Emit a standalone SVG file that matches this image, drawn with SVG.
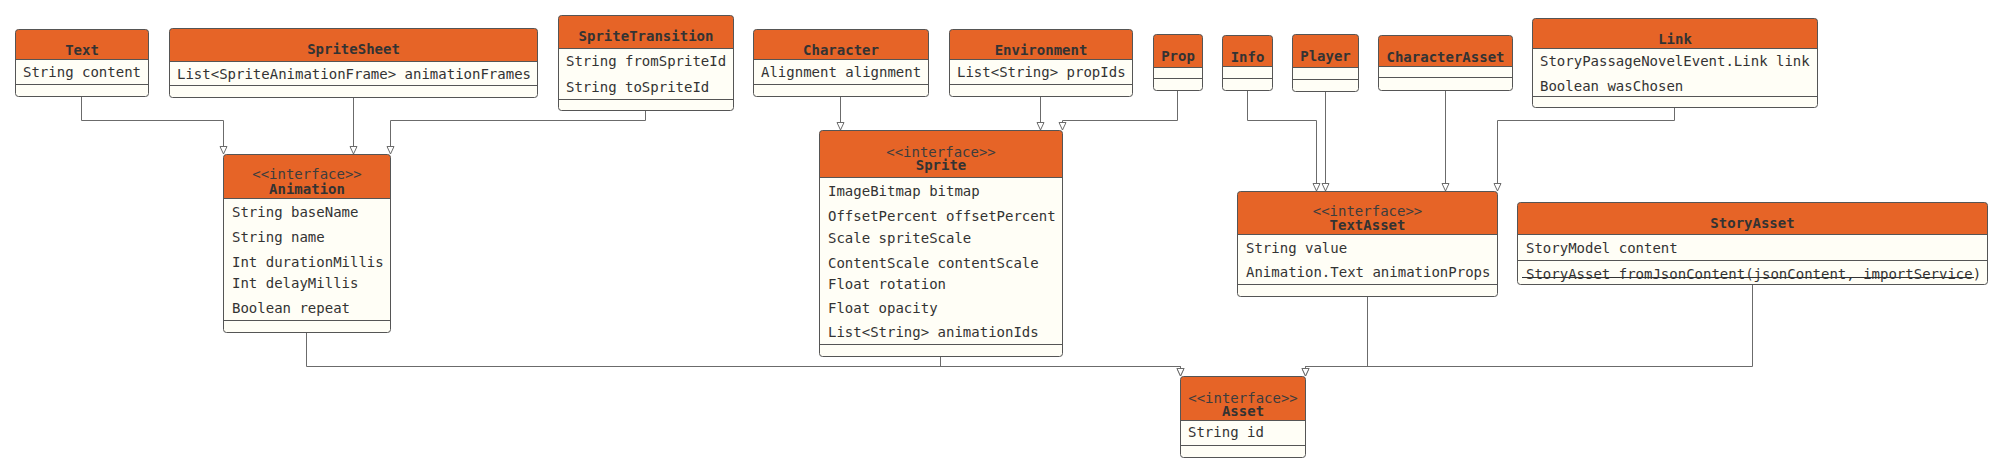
<svg xmlns="http://www.w3.org/2000/svg" width="2001" height="471" viewBox="0 0 2001 471">
<style>
.body{fill:#fffef6;stroke:none}
.head{fill:#e66427;stroke:none}
.frame{fill:none;stroke:#555;stroke-width:1}
.div{stroke:#555;stroke-width:1}
.t{font-family:"DejaVu Sans Mono","Liberation Mono",monospace;font-size:14px;fill:#333}
.ttl{font-weight:bold;text-anchor:middle;fill:#333}
.st{text-anchor:middle;fill:#3d3d3d}
.conn path{fill:none;stroke:#6b6b6b;stroke-width:1}
</style>
<defs>
<marker id="gen" markerUnits="userSpaceOnUse" markerWidth="10" markerHeight="10" refX="8" refY="4" orient="auto">
<path d="M0.5,0.5 L8,4 L0.5,7.5 Z" fill="#fff" stroke="#6b6b6b" stroke-width="1"/>
</marker>
</defs>
<rect width="2001" height="471" fill="#fff"/>

<g class="conn" id="connectors">
<path d="M81.5,96 V120.5 H223.5 V154" marker-end="url(#gen)"/>
<path d="M353.5,97 V154" marker-end="url(#gen)"/>
<path d="M645.5,110 V120.5 H390.5 V154" marker-end="url(#gen)"/>
<path d="M840.5,96 V130" marker-end="url(#gen)"/>
<path d="M1040.5,96 V130" marker-end="url(#gen)"/>
<path d="M1177.5,90 V120.5 H1062.5 V130" marker-end="url(#gen)"/>
<path d="M1247.5,90 V120.5 H1316.5 V191" marker-end="url(#gen)"/>
<path d="M1325.5,91 V191" marker-end="url(#gen)"/>
<path d="M1445.5,90 V191" marker-end="url(#gen)"/>
<path d="M1674.5,107 V120.5 H1497.5 V191" marker-end="url(#gen)"/>
<path d="M306.5,332 V366.5 H1180.5 V376" marker-end="url(#gen)"/>
<path d="M940.5,356 V366.5 H1180.5 V376" marker-end="url(#gen)"/>
<path d="M1367.5,296 V366.5 H1305.5 V376" marker-end="url(#gen)"/>
<path d="M1752.5,284 V366.5 H1305.5 V376" marker-end="url(#gen)"/>
</g>

<g id="Text">
<rect class="body" x="15.5" y="29.5" width="133" height="67" rx="3"/>
<path class="head" d="M15.5,59.5 V32.5 Q15.5,29.5 18.5,29.5 H145.5 Q148.5,29.5 148.5,32.5 V59.5 Z"/>
<line class="div" x1="15.5" y1="59.5" x2="148.5" y2="59.5"/>
<line class="div" x1="15.5" y1="84.5" x2="148.5" y2="84.5"/>
<rect class="frame" x="15.5" y="29.5" width="133" height="67" rx="3"/>
<text class="t ttl" x="82" y="55">Text</text>
<text class="t" x="23" y="77">String content</text>
</g>

<g id="SpriteSheet">
<rect class="body" x="169.5" y="28.5" width="368" height="69" rx="3"/>
<path class="head" d="M169.5,61.5 V31.5 Q169.5,28.5 172.5,28.5 H534.5 Q537.5,28.5 537.5,31.5 V61.5 Z"/>
<line class="div" x1="169.5" y1="61.5" x2="537.5" y2="61.5"/>
<line class="div" x1="169.5" y1="85.5" x2="537.5" y2="85.5"/>
<rect class="frame" x="169.5" y="28.5" width="368" height="69" rx="3"/>
<text class="t ttl" x="353.5" y="54">SpriteSheet</text>
<text class="t" x="177" y="79">List&lt;SpriteAnimationFrame&gt; animationFrames</text>
</g>

<g id="SpriteTransition">
<rect class="body" x="558.5" y="15.5" width="175" height="95" rx="3"/>
<path class="head" d="M558.5,48.5 V18.5 Q558.5,15.5 561.5,15.5 H730.5 Q733.5,15.5 733.5,18.5 V48.5 Z"/>
<line class="div" x1="558.5" y1="48.5" x2="733.5" y2="48.5"/>
<line class="div" x1="558.5" y1="99.5" x2="733.5" y2="99.5"/>
<rect class="frame" x="558.5" y="15.5" width="175" height="95" rx="3"/>
<text class="t ttl" x="646" y="41">SpriteTransition</text>
<text class="t" x="566" y="66">String fromSpriteId</text>
<text class="t" x="566" y="92">String toSpriteId</text>
</g>

<g id="Character">
<rect class="body" x="753.5" y="29.5" width="175" height="67" rx="3"/>
<path class="head" d="M753.5,59.5 V32.5 Q753.5,29.5 756.5,29.5 H925.5 Q928.5,29.5 928.5,32.5 V59.5 Z"/>
<line class="div" x1="753.5" y1="59.5" x2="928.5" y2="59.5"/>
<line class="div" x1="753.5" y1="84.5" x2="928.5" y2="84.5"/>
<rect class="frame" x="753.5" y="29.5" width="175" height="67" rx="3"/>
<text class="t ttl" x="841" y="55">Character</text>
<text class="t" x="761" y="77">Alignment alignment</text>
</g>

<g id="Environment">
<rect class="body" x="949.5" y="29.5" width="183" height="67" rx="3"/>
<path class="head" d="M949.5,59.5 V32.5 Q949.5,29.5 952.5,29.5 H1129.5 Q1132.5,29.5 1132.5,32.5 V59.5 Z"/>
<line class="div" x1="949.5" y1="59.5" x2="1132.5" y2="59.5"/>
<line class="div" x1="949.5" y1="84.5" x2="1132.5" y2="84.5"/>
<rect class="frame" x="949.5" y="29.5" width="183" height="67" rx="3"/>
<text class="t ttl" x="1041" y="55">Environment</text>
<text class="t" x="957" y="77">List&lt;String&gt; propIds</text>
</g>

<g id="Prop">
<rect class="body" x="1153.5" y="34.5" width="49" height="56" rx="3"/>
<path class="head" d="M1153.5,67.5 V37.5 Q1153.5,34.5 1156.5,34.5 H1199.5 Q1202.5,34.5 1202.5,37.5 V67.5 Z"/>
<line class="div" x1="1153.5" y1="67.5" x2="1202.5" y2="67.5"/>
<line class="div" x1="1153.5" y1="78.5" x2="1202.5" y2="78.5"/>
<rect class="frame" x="1153.5" y="34.5" width="49" height="56" rx="3"/>
<text class="t ttl" x="1178" y="61">Prop</text>
</g>

<g id="Info">
<rect class="body" x="1222.5" y="35.5" width="50" height="55" rx="3"/>
<path class="head" d="M1222.5,66.5 V38.5 Q1222.5,35.5 1225.5,35.5 H1269.5 Q1272.5,35.5 1272.5,38.5 V66.5 Z"/>
<line class="div" x1="1222.5" y1="66.5" x2="1272.5" y2="66.5"/>
<line class="div" x1="1222.5" y1="78.5" x2="1272.5" y2="78.5"/>
<rect class="frame" x="1222.5" y="35.5" width="50" height="55" rx="3"/>
<text class="t ttl" x="1247.5" y="62">Info</text>
</g>

<g id="Player">
<rect class="body" x="1292.5" y="34.5" width="66" height="57" rx="3"/>
<path class="head" d="M1292.5,67.5 V37.5 Q1292.5,34.5 1295.5,34.5 H1355.5 Q1358.5,34.5 1358.5,37.5 V67.5 Z"/>
<line class="div" x1="1292.5" y1="67.5" x2="1358.5" y2="67.5"/>
<line class="div" x1="1292.5" y1="79.5" x2="1358.5" y2="79.5"/>
<rect class="frame" x="1292.5" y="34.5" width="66" height="57" rx="3"/>
<text class="t ttl" x="1325.5" y="61">Player</text>
</g>

<g id="CharacterAsset">
<rect class="body" x="1378.5" y="35.5" width="134" height="55" rx="3"/>
<path class="head" d="M1378.5,66.5 V38.5 Q1378.5,35.5 1381.5,35.5 H1509.5 Q1512.5,35.5 1512.5,38.5 V66.5 Z"/>
<line class="div" x1="1378.5" y1="66.5" x2="1512.5" y2="66.5"/>
<line class="div" x1="1378.5" y1="77.5" x2="1512.5" y2="77.5"/>
<rect class="frame" x="1378.5" y="35.5" width="134" height="55" rx="3"/>
<text class="t ttl" x="1445.5" y="62">CharacterAsset</text>
</g>

<g id="Link">
<rect class="body" x="1532.5" y="18.5" width="285" height="89" rx="3"/>
<path class="head" d="M1532.5,48.5 V21.5 Q1532.5,18.5 1535.5,18.5 H1814.5 Q1817.5,18.5 1817.5,21.5 V48.5 Z"/>
<line class="div" x1="1532.5" y1="48.5" x2="1817.5" y2="48.5"/>
<line class="div" x1="1532.5" y1="96.5" x2="1817.5" y2="96.5"/>
<rect class="frame" x="1532.5" y="18.5" width="285" height="89" rx="3"/>
<text class="t ttl" x="1675" y="44">Link</text>
<text class="t" x="1540" y="66">StoryPassageNovelEvent.Link link</text>
<text class="t" x="1540" y="91">Boolean wasChosen</text>
</g>

<g id="Animation">
<rect class="body" x="223.5" y="154.5" width="167" height="178" rx="3"/>
<path class="head" d="M223.5,198.5 V157.5 Q223.5,154.5 226.5,154.5 H387.5 Q390.5,154.5 390.5,157.5 V198.5 Z"/>
<line class="div" x1="223.5" y1="198.5" x2="390.5" y2="198.5"/>
<line class="div" x1="223.5" y1="320.5" x2="390.5" y2="320.5"/>
<rect class="frame" x="223.5" y="154.5" width="167" height="178" rx="3"/>
<text class="t st" x="307" y="179">&lt;&lt;interface&gt;&gt;</text>
<text class="t ttl" x="307" y="194">Animation</text>
<text class="t" x="232" y="217">String baseName</text>
<text class="t" x="232" y="242">String name</text>
<text class="t" x="232" y="267">Int durationMillis</text>
<text class="t" x="232" y="288">Int delayMillis</text>
<text class="t" x="232" y="313">Boolean repeat</text>
</g>

<g id="Sprite">
<rect class="body" x="819.5" y="130.5" width="243" height="226" rx="3"/>
<path class="head" d="M819.5,177.5 V133.5 Q819.5,130.5 822.5,130.5 H1059.5 Q1062.5,130.5 1062.5,133.5 V177.5 Z"/>
<line class="div" x1="819.5" y1="177.5" x2="1062.5" y2="177.5"/>
<line class="div" x1="819.5" y1="344.5" x2="1062.5" y2="344.5"/>
<rect class="frame" x="819.5" y="130.5" width="243" height="226" rx="3"/>
<text class="t st" x="941" y="157">&lt;&lt;interface&gt;&gt;</text>
<text class="t ttl" x="941" y="170">Sprite</text>
<text class="t" x="828" y="196">ImageBitmap bitmap</text>
<text class="t" x="828" y="221">OffsetPercent offsetPercent</text>
<text class="t" x="828" y="243">Scale spriteScale</text>
<text class="t" x="828" y="268">ContentScale contentScale</text>
<text class="t" x="828" y="289">Float rotation</text>
<text class="t" x="828" y="313">Float opacity</text>
<text class="t" x="828" y="337">List&lt;String&gt; animationIds</text>
</g>

<g id="TextAsset">
<rect class="body" x="1237.5" y="191.5" width="260" height="105" rx="3"/>
<path class="head" d="M1237.5,234.5 V194.5 Q1237.5,191.5 1240.5,191.5 H1494.5 Q1497.5,191.5 1497.5,194.5 V234.5 Z"/>
<line class="div" x1="1237.5" y1="234.5" x2="1497.5" y2="234.5"/>
<line class="div" x1="1237.5" y1="284.5" x2="1497.5" y2="284.5"/>
<rect class="frame" x="1237.5" y="191.5" width="260" height="105" rx="3"/>
<text class="t st" x="1367.5" y="216">&lt;&lt;interface&gt;&gt;</text>
<text class="t ttl" x="1367.5" y="230">TextAsset</text>
<text class="t" x="1246" y="253">String value</text>
<text class="t" x="1246" y="277">Animation.Text animationProps</text>
</g>

<g id="StoryAsset">
<rect class="body" x="1517.5" y="202.5" width="470" height="82" rx="3"/>
<path class="head" d="M1517.5,234.5 V205.5 Q1517.5,202.5 1520.5,202.5 H1984.5 Q1987.5,202.5 1987.5,205.5 V234.5 Z"/>
<line class="div" x1="1517.5" y1="234.5" x2="1987.5" y2="234.5"/>
<line class="div" x1="1517.5" y1="260.5" x2="1987.5" y2="260.5"/>
<rect class="frame" x="1517.5" y="202.5" width="470" height="82" rx="3"/>
<text class="t ttl" x="1752.5" y="228">StoryAsset</text>
<text class="t" x="1526" y="253">StoryModel content</text>
<text class="t" x="1526" y="279">StoryAsset fromJsonContent(jsonContent, importService)</text>
<line x1="1522" y1="277.5" x2="1974" y2="277.5" stroke="#333" stroke-width="1"/>
</g>

<g id="Asset">
<rect class="body" x="1180.5" y="376.5" width="125" height="81" rx="3"/>
<path class="head" d="M1180.5,420.5 V379.5 Q1180.5,376.5 1183.5,376.5 H1302.5 Q1305.5,376.5 1305.5,379.5 V420.5 Z"/>
<line class="div" x1="1180.5" y1="420.5" x2="1305.5" y2="420.5"/>
<line class="div" x1="1180.5" y1="445.5" x2="1305.5" y2="445.5"/>
<rect class="frame" x="1180.5" y="376.5" width="125" height="81" rx="3"/>
<text class="t st" x="1243" y="403">&lt;&lt;interface&gt;&gt;</text>
<text class="t ttl" x="1243" y="416">Asset</text>
<text class="t" x="1188" y="437">String id</text>
</g>
</svg>
